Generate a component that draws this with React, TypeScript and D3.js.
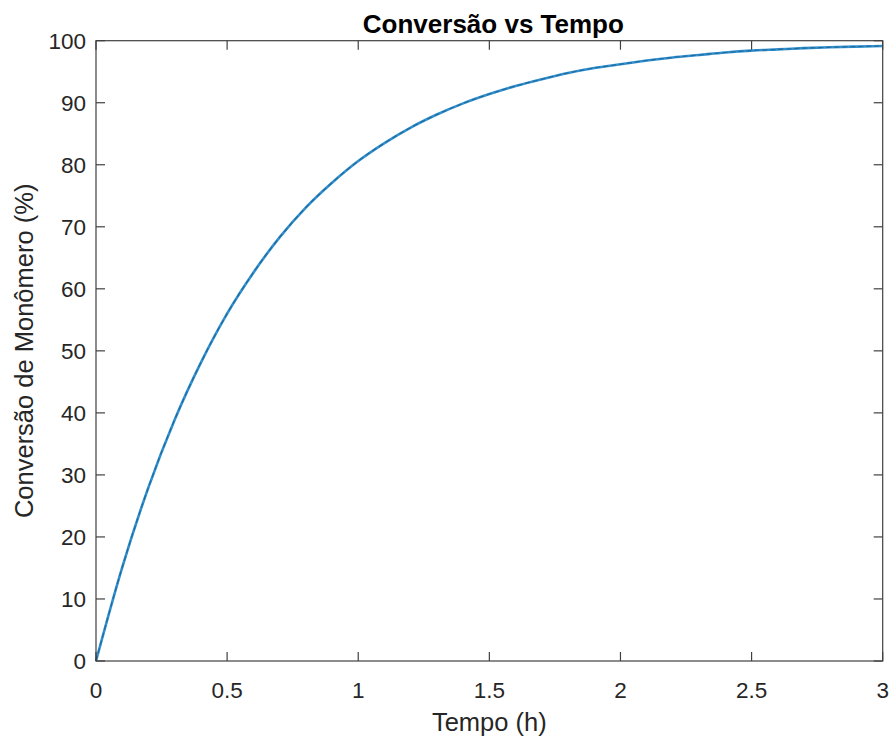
import React from "react";
import * as d3 from "d3";

const timeH = [0, 0.1, 0.2, 0.3, 0.4, 0.5, 0.6, 0.7, 0.8, 0.9, 1.0, 1.1, 1.2, 1.3, 1.4, 1.5, 1.6, 1.7, 1.8, 1.9, 2.0, 2.1, 2.2, 2.3, 2.4, 2.5, 2.6, 2.7, 2.8, 2.9, 3.0];
const conversion = [0, 15.1, 28.0, 38.9, 48.1, 56.0, 62.6, 68.3, 73.1, 77.1, 80.6, 83.5, 86.0, 88.1, 89.9, 91.4, 92.7, 93.8, 94.8, 95.6, 96.2, 96.8, 97.3, 97.7, 98.1, 98.4, 98.6, 98.8, 98.95, 99.05, 99.15];
const xTicks = [0, 0.5, 1, 1.5, 2, 2.5, 3];
const yTicks = [0, 10, 20, 30, 40, 50, 60, 70, 80, 90, 100];

const W = 893;
const H = 740;
const M = { left: 96, right: 893 - 882.7, top: 40.7, bottom: 740 - 661 };
const AX = "#404040";
const FONT = "'Liberation Sans', Arial, Helvetica, sans-serif";

export default function App() {
  const x = d3.scaleLinear().domain([0, 3]).range([M.left, W - M.right]);
  const y = d3.scaleLinear().domain([0, 100]).range([H - M.bottom, M.top]);
  const data = timeH.map((t, i) => [t, conversion[i]] as [number, number]);
  const line = d3
    .line<[number, number]>()
    .x((d) => x(d[0]))
    .y((d) => y(d[1]))
    .curve(d3.curveMonotoneX);
  const path = line(data) || "";
  const tl = 9;
  const x0 = x(0), x1 = x(3), y0 = y(0), y1 = y(100);
  return (
    <svg width={W} height={H} style={{ position: "absolute", left: 0, top: 0, background: "#fff" }} fontFamily={FONT}>
      <rect x={0} y={0} width={W} height={H} fill="#fff" />
      <path d={path} fill="none" stroke="#2f8fd0" strokeWidth={2.6} strokeLinejoin="round" />
      <path d={path} fill="none" stroke="#1d5f86" strokeWidth={1.1} strokeDasharray="5 3" opacity={0.8} />
      <rect x={x0} y={y1} width={x1 - x0} height={y0 - y1} fill="none" stroke={AX} strokeWidth={1.2} />
      {xTicks.map((t) => (
        <g key={"x" + t}>
          <line x1={x(t)} x2={x(t)} y1={y0} y2={y0 - tl} stroke={AX} strokeWidth={1.2} />
          <line x1={x(t)} x2={x(t)} y1={y1} y2={y1 + tl} stroke={AX} strokeWidth={1.2} />
          <text x={x(t)} y={y0 + 37} textAnchor="middle" fontSize={22.5} fill="#262626">
            {String(t)}
          </text>
        </g>
      ))}
      {yTicks.map((v) => (
        <g key={"y" + v}>
          <line x1={x0} x2={x0 + tl} y1={y(v)} y2={y(v)} stroke={AX} strokeWidth={1.2} />
          <line x1={x1} x2={x1 - tl} y1={y(v)} y2={y(v)} stroke={AX} strokeWidth={1.2} />
          <text x={x0 - 10} y={y(v)} dy="0.36em" textAnchor="end" fontSize={22.5} fill="#262626">
            {String(v)}
          </text>
        </g>
      ))}
      <text x={(x0 + x1) / 2} y={731} textAnchor="middle" fontSize={25.5} fill="#262626">
        Tempo (h)
      </text>
      <text
        transform={`translate(33,${(y0 + y1) / 2}) rotate(-90)`}
        textAnchor="middle"
        fontSize={25.5}
        fill="#262626"
      >
        Conversão de Monômero (%)
      </text>
      <text x={(x0 + x1) / 2 + 4} y={33} textAnchor="middle" fontSize={26} fontWeight="bold" fill="#000">
        Conversão vs Tempo
      </text>
    </svg>
  );
}
